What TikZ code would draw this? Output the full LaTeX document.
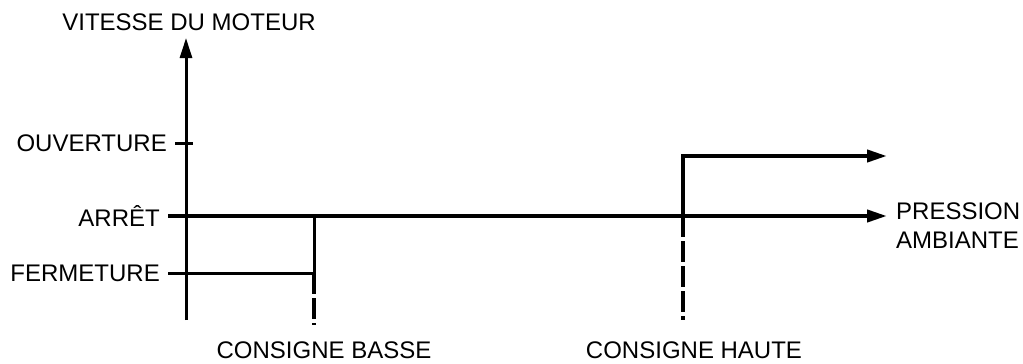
\documentclass[tikz,border=0pt]{standalone}
\usepackage{fontspec}
\setmainfont{Liberation Sans}
\usetikzlibrary{arrows.meta}
\begin{document}
\begin{tikzpicture}[x=1pt,y=-1pt,
  lbl/.style={font=\fontsize{24}{29}\selectfont, inner sep=0pt},
  axisline/.style={line width=3pt},
  level/.style={line width=4pt},
  setline/.style={line width=4pt, dash pattern=on 21pt off 4pt},
  tip/.style={-{Triangle[length=20pt,width=12pt]}}]
\useasboundingbox (0,0) rectangle (1023,364);

% axis end points and levels
\coordinate (axbot) at (186,320);
\coordinate (axtop) at (186,38);
\coordinate (ouvL) at (175,143);
\coordinate (ouvR) at (193,143);
\coordinate (arrL) at (168,216);
\coordinate (arrR) at (887,216);
\coordinate (ferL) at (168,273);
\coordinate (basA) at (314,216);
\coordinate (basF) at (314,273);
\coordinate (basE) at (314,325);
\coordinate (hauT) at (683,156);
\coordinate (hauA) at (683,216);
\coordinate (hauE) at (683,320);
\coordinate (hauR) at (887,156);

% labels
\node[lbl] (vit) at (189,22) {VITESSE DU MOTEUR};
\node[lbl, anchor=east] (ouv) at (167,143) {OUVERTURE};
\node[lbl, anchor=east] (arr) at (160,216) {ARRÊT};
\node[lbl, anchor=east] (fer) at (160,273) {FERMETURE};
\node[lbl, anchor=west, align=left] (pres) at (896,226) {PRESSION\\AMBIANTE};
\node[lbl] (cbas) at (324,350) {CONSIGNE BASSE};
\node[lbl] (chau) at (694,350) {CONSIGNE HAUTE};

% vertical axis
\draw[axisline, tip] (axbot) -- (axtop);
\draw[axisline] (ouvL) -- (ouvR);

% levels
\draw[level, tip] (arrL) -- (arrR);
\draw[axisline] (ferL) -- (basF);

% low set point
\draw[axisline] (basA) -- (basF);
\draw[setline] (basF) -- (basE);

% high set point
\draw[level, tip] (hauA) -- (hauT) -- (hauR);
\draw[setline] (hauA) -- (hauE);
\end{tikzpicture}
\end{document}
